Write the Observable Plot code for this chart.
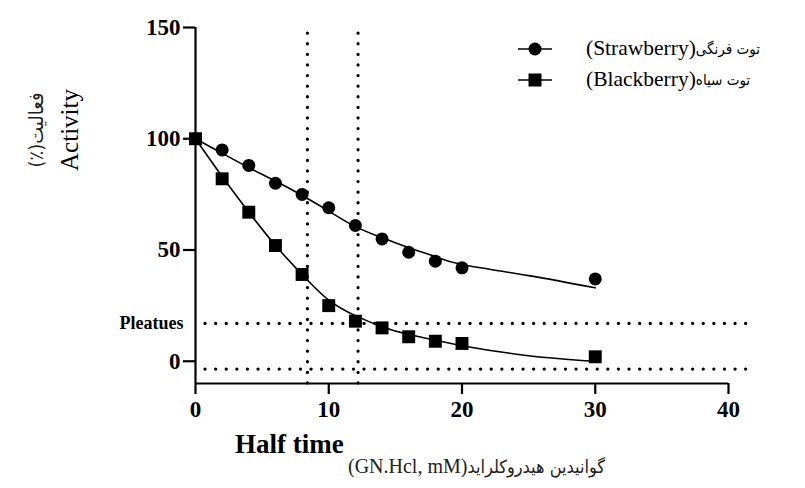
<!DOCTYPE html>
<html>
<head>
<meta charset="utf-8">
<script src="https://cdn.jsdelivr.net/npm/d3@7"></script>
<script src="https://cdn.jsdelivr.net/npm/@observablehq/plot@0.6"></script>
<style>
  html, body { margin: 0; padding: 0; background: #fff; }
  #wrap { position: relative; width: 805px; height: 488px; font-family: "Liberation Serif", "Times New Roman", serif; }
  .lbl { position: absolute; color: #000; white-space: nowrap; }
  .fa { font-family: "DejaVu Sans Condensed", "DejaVu Sans", sans-serif; }
  #ylab-en { left: 70px; top: 130px; font-size: 25px; transform: translate(-50%, -50%) rotate(-90deg); }
  #ylab-fa { left: 36px; top: 130px; font-size: 20px; transform: translate(-50%, -50%) rotate(-90deg); color: #222; }
  #xlab-en { left: 235px; top: 429px; font-size: 27px; font-weight: bold; }
  #xlab-fa { left: 348px; top: 455px; font-size: 20px; color: #222; }
  #legend { position: absolute; left: 516px; top: 33px; font-size: 21.5px; }
  .leg-row { display: flex; align-items: center; height: 31px; }
  .leg-row svg { margin-right: 32px; }
</style>
</head>
<body>
<div id="wrap">
  <div id="chart"></div>
  <div class="lbl fa" id="ylab-fa">(٪)فعالیت</div>
  <div class="lbl" id="ylab-en">Activity</div>
  <div class="lbl" id="xlab-en">Half time</div>
  <div class="lbl" id="xlab-fa">(GN.Hcl, mM)<span class="fa" style="font-size:18px">گوانیدین هیدروکلراید</span></div>
  <div id="legend"></div>
</div>
<script>
// Measured points (GN.HCl concentration, activity %)
const concX = [0, 2, 4, 6, 8, 10, 12, 14, 16, 18, 20, 30];
const strawberry = [100, 95, 88, 80, 75, 69, 61, 55, 49, 45, 42, 37];
const blackberry = [100, 82, 67, 52, 39, 25, 18, 15, 11, 9, 8, 2];

// Fitted curves
const fitX = [0, 2, 4, 6, 8, 10, 12, 14, 16, 18, 20, 25, 30];
const strawberryFit = [100, 93.5, 87, 81, 74.5, 67.5, 60.5, 55.5, 51, 47, 43.5, 38.5, 33];
const blackberryFit = [100, 83, 67, 52, 39, 27.5, 20.5, 15.5, 12, 9.5, 7, 2.5, 0];

// Reference lines
const halfTimes = [8.4, 12.2];
const plateaus = [17, -3.5];
const plateauLabel = ["Pleatues"];

// Axes
const xTicks = [0, 10, 20, 30, 40];
const yTicks = [0, 50, 100, 150];
const xDomain = [0, 40];
const yDomain = [-10, 150];

const seriesEn = ["(Strawberry)", "(Blackberry)"];
const seriesFa = ["توت فرنگی", "توت سیاه"];
const seriesSymbols = ["circle", "square"];

const strawPts = concX.map((x, i) => ({x, y: strawberry[i]}));
const blackPts = concX.map((x, i) => ({x, y: blackberry[i]}));
const strawFit = fitX.map((x, i) => ({x, y: strawberryFit[i]}));
const blackFit = fitX.map((x, i) => ({x, y: blackberryFit[i]}));

const dotted = "0.1,10.5";

const chart = Plot.plot({
  width: 805,
  height: 488,
  marginLeft: 195,
  marginRight: 77,
  marginTop: 27,
  marginBottom: 105,
  style: {fontFamily: "'Liberation Serif', 'Times New Roman', serif", background: "white", overflow: "visible"},
  x: {domain: xDomain, ticks: xTicks, label: null},
  y: {domain: yDomain, ticks: yTicks, label: null},
  marks: [
    Plot.ruleX(halfTimes, {y1: yDomain[0], y2: yDomain[1], stroke: "black", strokeWidth: 3.2, strokeDasharray: dotted, strokeLinecap: "round"}),
    Plot.ruleY(plateaus, {x1: 0.75, x2: 41.4, stroke: "black", strokeWidth: 3.2, strokeDasharray: dotted, strokeLinecap: "round", clip: false}),
    Plot.ruleX([0], {y1: yDomain[0], y2: yDomain[1], stroke: "black", strokeWidth: 2.2}),
    Plot.ruleY([yDomain[0]], {x1: xDomain[0], x2: xDomain[1], stroke: "black", strokeWidth: 2.2}),
    Plot.axisX({ticks: xTicks, tickSize: 11, tickPadding: 6, strokeWidth: 2.2, fontSize: 23, fontWeight: "bold", label: null}),
    Plot.axisY({ticks: yTicks, tickSize: 12, tickPadding: 3, strokeWidth: 2.2, fontSize: 23, fontWeight: "bold", label: null}),
    Plot.line(strawFit, {x: "x", y: "y", stroke: "black", strokeWidth: 1.6, curve: "natural"}),
    Plot.line(blackFit, {x: "x", y: "y", stroke: "black", strokeWidth: 1.6, curve: "natural"}),
    Plot.dot(strawPts, {x: "x", y: "y", r: 6.5, fill: "black", symbol: "circle"}),
    Plot.dot(blackPts, {x: "x", y: "y", r: 7.3, fill: "black", symbol: "square"}),
    Plot.text(plateauLabel, {x: 0, y: plateaus[0], text: d => d, textAnchor: "end", dx: -12, fontSize: 18, fontWeight: "bold", clip: false})
  ]
});
document.getElementById("chart").appendChild(chart);

// Legend
const legend = document.getElementById("legend");
seriesEn.forEach((name, i) => {
  const row = document.createElement("div");
  row.className = "leg-row";
  const shape = seriesSymbols[i] === "circle"
    ? '<circle cx="19" cy="10" r="6.5" fill="black"/>'
    : '<rect x="12.5" y="3.5" width="13" height="13" fill="black"/>';
  row.innerHTML = `<svg width="38" height="20"><line x1="2" x2="36" y1="10" y2="10" stroke="black" stroke-width="1.6"/>${shape}</svg><span>${name}</span><span class="fa" style="font-size:15px">${seriesFa[i]}</span>`;
  legend.appendChild(row);
});
</script>
</body>
</html>
